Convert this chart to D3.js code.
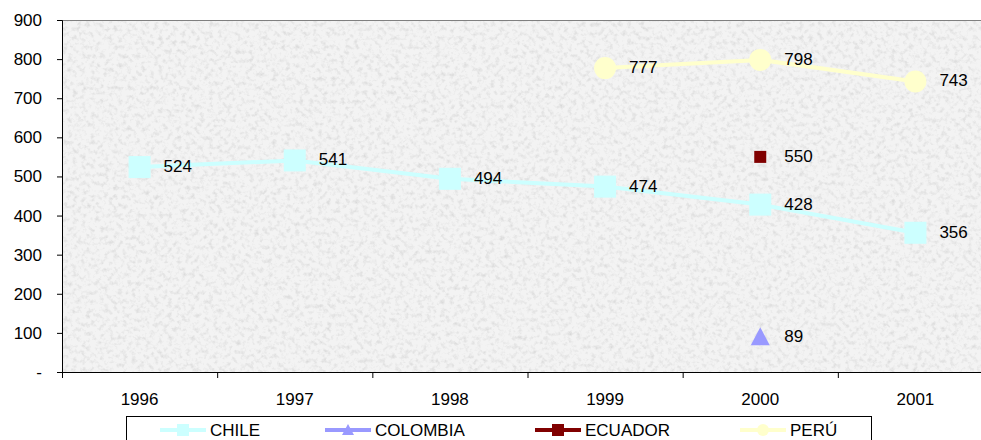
<!DOCTYPE html>
<html lang="en">
<head>
<meta charset="UTF-8">
<title>Series by country</title>
<script src="https://cdnjs.cloudflare.com/ajax/libs/d3/7.8.5/d3.min.js"></script>
<style>
  body { margin: 0; background: #fff; }
  text { font-family: "Liberation Sans", Arial, sans-serif; }
</style>
</head>
<body>
<div id="chart"></div>
<script>
var years = ["1996", "1997", "1998", "1999", "2000", "2001"];
var chile    = [524, 541, 494, 474, 428, 356];
var colombia = [null, null, null, null, 89, null];
var ecuador  = [null, null, null, null, 550, null];
var peru     = [null, null, null, 777, 798, 743];
var yTicks = [0, 100, 200, 300, 400, 500, 600, 700, 800, 900];

var w = 981, h = 440;
var plotLeft = 62, plotTop = 20, plotBottom = 372, plotRight = 993;
var fs = "17px";

var series = [
  {name: "CHILE", values: chile, color: "#CCFFFF", shape: "square"},
  {name: "COLOMBIA", values: colombia, color: "#9999FF", shape: "triangle"},
  {name: "ECUADOR", values: ecuador, color: "#800000", shape: "smallsquare"},
  {name: "PERÚ", values: peru, color: "#FFFFCC", shape: "circle"}
];

var svg = d3.select("#chart").append("svg")
  .attr("width", w).attr("height", h);

// speckled grey background of the plot
var defs = svg.append("defs");
var f = defs.append("filter").attr("id", "grain")
  .attr("x", 0).attr("y", 0).attr("width", 1).attr("height", 1);
f.append("feTurbulence").attr("type", "fractalNoise")
  .attr("baseFrequency", "0.22").attr("numOctaves", 3).attr("seed", 7).attr("result", "n");
f.append("feColorMatrix").attr("in", "n").attr("type", "matrix")
  .attr("values", "0 0 0 0 0.62  0 0 0 0 0.62  0 0 0 0 0.62  -1.5 0 0 0 0.8");

var x = d3.scaleBand().domain(years).range([plotLeft, plotRight]);
var y = d3.scaleLinear().domain([0, 900]).range([plotBottom, plotTop]);

svg.append("rect").attr("x", plotLeft).attr("y", plotTop)
  .attr("width", plotRight - plotLeft).attr("height", plotBottom - plotTop)
  .attr("fill", "#f3f3f3");
svg.append("rect").attr("x", plotLeft).attr("y", plotTop)
  .attr("width", plotRight - plotLeft).attr("height", plotBottom - plotTop)
  .attr("fill", "#fff").attr("filter", "url(#grain)");

svg.append("line").attr("x1", plotLeft).attr("x2", plotRight)
  .attr("y1", plotTop + 0.5).attr("y2", plotTop + 0.5)
  .attr("stroke", "#808080").attr("stroke-width", 1);

// axes
var yAxis = svg.append("g").attr("transform", "translate(" + plotLeft + ",0)")
  .call(d3.axisLeft(y).tickValues(yTicks).tickSize(5).tickPadding(15)
    .tickFormat(function(d) { return d === 0 ? "-" : d; }));
yAxis.select(".domain").attr("stroke", "#000");
yAxis.selectAll("text").attr("font-size", fs).attr("fill", "#000")
  .attr("font-family", "'Liberation Sans', Arial, sans-serif");

var xAxis = svg.append("g").attr("transform", "translate(0," + plotBottom + ")")
  .call(d3.axisBottom(x).tickSize(0).tickPadding(20));
xAxis.select(".domain").attr("stroke", "#000");
xAxis.selectAll(".tick").remove();
svg.append("g").selectAll("text").data(years).enter().append("text")
  .attr("x", function(d) { return x(d) + x.bandwidth() / 2; })
  .attr("y", plotBottom + 33)
  .attr("text-anchor", "middle").attr("font-size", fs)
  .text(function(d) { return d; });
svg.append("g").selectAll("line").data(years).enter().append("line")
  .attr("x1", function(d) { return x(d) + 0.5; })
  .attr("x2", function(d) { return x(d) + 0.5; })
  .attr("y1", plotBottom).attr("y2", plotBottom + 6)
  .attr("stroke", "#000");

function drawMarker(g, shape, color, cx, cy) {
  if (shape === "square") {
    g.append("rect").attr("x", cx - 11).attr("y", cy - 11)
      .attr("width", 22).attr("height", 22).attr("fill", color);
  } else if (shape === "smallsquare") {
    g.append("rect").attr("x", cx - 6).attr("y", cy - 6)
      .attr("width", 12).attr("height", 12).attr("fill", color);
  } else if (shape === "circle") {
    g.append("circle").attr("cx", cx).attr("cy", cy).attr("r", 11).attr("fill", color);
  } else if (shape === "triangle") {
    g.append("path").attr("d", "M" + cx + "," + (cy - 10) + "L" + (cx + 9.5) + "," + (cy + 8) + "L" + (cx - 9.5) + "," + (cy + 8) + "Z")
      .attr("fill", color);
  }
}

var cxOf = function(i) { return x(years[i]) + x.bandwidth() / 2; };

series.forEach(function(s) {
  var g = svg.append("g");
  var line = d3.line()
    .defined(function(d) { return d !== null; })
    .x(function(d, i) { return cxOf(i); })
    .y(function(d) { return y(d); });
  g.append("path").datum(s.values).attr("d", line)
    .attr("fill", "none").attr("stroke", s.color).attr("stroke-width", 4);
  s.values.forEach(function(v, i) {
    if (v === null) return;
    drawMarker(g, s.shape, s.color, cxOf(i), y(v));
    g.append("text").attr("x", cxOf(i) + 24).attr("y", y(v) + 5)
      .attr("font-size", fs).attr("fill", "#000").text(v);
  });
});

// legend
var lg = svg.append("g");
lg.append("rect").attr("x", 126.5).attr("y", 416.5)
  .attr("width", 745).attr("height", 40)
  .attr("fill", "#fff").attr("stroke", "#000");
var legX = [160, 325, 535, 740];
series.forEach(function(s, i) {
  var ly = 430;
  lg.append("line").attr("x1", legX[i]).attr("x2", legX[i] + 46)
    .attr("y1", ly).attr("y2", ly)
    .attr("stroke", s.color).attr("stroke-width", 4);
  if (s.shape === "circle") {
    lg.append("circle").attr("cx", legX[i] + 23).attr("cy", ly).attr("r", 6).attr("fill", s.color);
  } else if (s.shape === "triangle") {
    lg.append("path").attr("d", "M" + (legX[i] + 23) + "," + (ly - 6) + "L" + (legX[i] + 29) + "," + (ly + 5) + "L" + (legX[i] + 17) + "," + (ly + 5) + "Z").attr("fill", s.color);
  } else {
    drawMarker(lg, "smallsquare", s.color, legX[i] + 23, ly);
  }
  lg.append("text").attr("x", legX[i] + 50).attr("y", ly + 6)
    .attr("font-size", fs).attr("fill", "#000").text(s.name);
});
</script>
</body>
</html>
